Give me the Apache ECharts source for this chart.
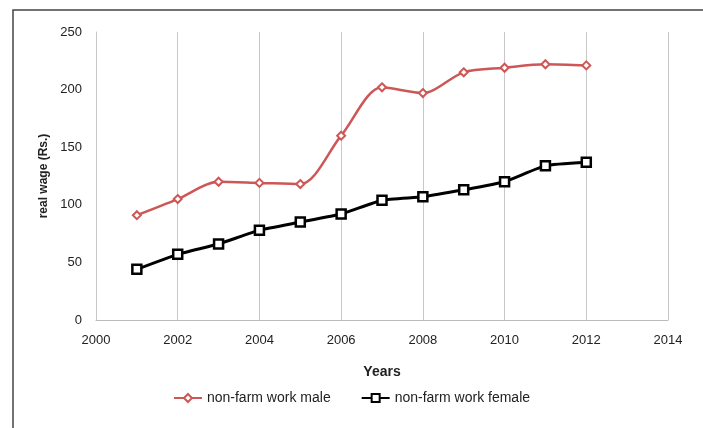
<!DOCTYPE html>
<html>
<head>
<meta charset="utf-8">
<script src="https://cdn.jsdelivr.net/npm/echarts@6/dist/echarts.min.js"></script>
<style>
html, body { margin: 0; padding: 0; background: #fff; }
#chart { width: 703px; height: 428px; }
</style>
</head>
<body>
<div id="chart"></div>
<script>
var years = [2001, 2002, 2003, 2004, 2005, 2006, 2007, 2008, 2009, 2010, 2011, 2012];
var maleWage = [91, 105, 120, 119, 118, 160, 202, 197, 215, 219, 222, 221];
var femaleWage = [44, 57, 66, 78, 85, 92, 104, 107, 113, 120, 134, 137];

var chart = echarts.init(document.getElementById('chart'));

function pairs(vals) {
	return years.map(function (y, i) { return [y, vals[i]]; });
}

var font = 'Liberation Sans, Arial, sans-serif';

chart.setOption({
	animation: false,
	textStyle: { fontFamily: font },
	graphic: [{
		type: 'rect',
		shape: { x: 13, y: 10, width: 720, height: 450 },
		style: { fill: 'none', stroke: '#444', lineWidth: 1.5 },
		silent: true
	}],
	grid: { left: 96, right: 35, top: 32, bottom: 108 },
	legend: {
		bottom: 18,
		left: 'center',
		itemGap: 30,
		itemWidth: 28,
		itemHeight: 10,
		textStyle: { fontSize: 14, color: '#222', fontFamily: font },
		data: ['non-farm work male', 'non-farm work female']
	},
	xAxis: {
		type: 'value',
		min: 2000,
		max: 2014,
		interval: 2,
		name: 'Years',
		nameLocation: 'middle',
		nameGap: 45,
		nameTextStyle: { fontSize: 14, color: '#222', fontWeight: 'bold' },
		axisLine: { lineStyle: { color: '#bbb' } },
		axisTick: { show: false },
		axisLabel: { fontSize: 13, color: '#222', margin: 14, formatter: function (v) { return String(v); } },
		splitLine: { show: true, lineStyle: { color: '#c8c8c8' } }
	},
	yAxis: {
		type: 'value',
		min: 0,
		max: 250,
		interval: 50,
		name: 'real wage (Rs.)',
		nameLocation: 'middle',
		nameGap: 44,
		nameTextStyle: { fontSize: 12, color: '#222', fontWeight: 'bold' },
		axisLine: { show: true, lineStyle: { color: '#c8c8c8' } },
		axisTick: { show: false },
		axisLabel: { fontSize: 13, color: '#222', margin: 14 },
		splitLine: { show: false }
	},
	series: [{
		name: 'non-farm work male',
		type: 'line',
		smooth: 0.3,
		data: pairs(maleWage),
		symbol: 'diamond',
		symbolSize: 8,
		lineStyle: { color: '#cd5756', width: 2.5 },
		itemStyle: { color: '#fff', borderColor: '#cd5756', borderWidth: 2 }
	}, {
		name: 'non-farm work female',
		type: 'line',
		smooth: 0.15,
		data: pairs(femaleWage),
		symbol: 'rect',
		symbolSize: 9,
		lineStyle: { color: '#000', width: 3 },
		itemStyle: { color: '#fff', borderColor: '#000', borderWidth: 2.5 }
	}]
});
</script>
</body>
</html>
